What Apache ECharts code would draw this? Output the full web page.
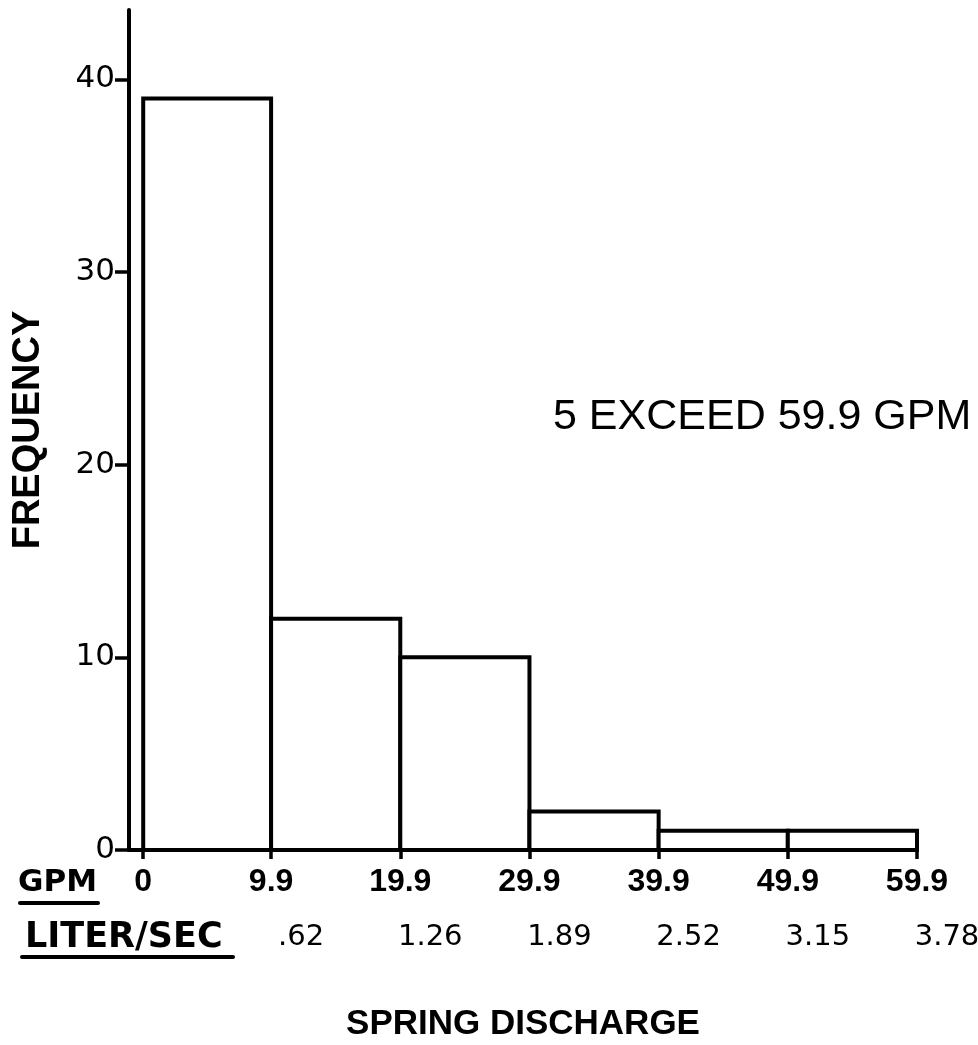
<!DOCTYPE html>
<html>
<head>
<meta charset="utf-8">
<script src="https://cdn.jsdelivr.net/npm/echarts@6/dist/echarts.min.js"></script>
<style>
	html, body { margin: 0; padding: 0; background: #fff; }
	#main { width: 978px; height: 1045px; }
</style>
</head>
<body>
<div id="main"></div>
<script>
// bin edges in GPM, and the count in each bin
var binEdges = [0, 9.9, 19.9, 29.9, 39.9, 49.9, 59.9];
var frequency = [39, 12, 10, 2, 1, 1];
var gpmLabels = ['0', '9.9', '19.9', '29.9', '39.9', '49.9', '59.9'];
var literSecLabels = ['.62', '1.26', '1.89', '2.52', '3.15', '3.78'];
var yTicks = [0, 10, 20, 30, 40];

function edgeIndex(v) {
	var best = 0;
	for (var i = 1; i < binEdges.length; i++) {
		if (Math.abs(binEdges[i] - v) < Math.abs(binEdges[best] - v)) best = i;
	}
	return best;
}

var bins = [];
for (var i = 0; i < frequency.length; i++) {
	bins.push([binEdges[i], binEdges[i + 1], frequency[i]]);
}

var chart = echarts.init(document.getElementById('main'));
chart.setOption({
	backgroundColor: '#fff',
	animation: false,
	grid: {
		left: 129,
		right: 61,
		top: 10,
		bottom: 195,
		containLabel: false,
		outerBoundsMode: 'none'
	},
	xAxis: [{
		type: 'value',
		min: -1.1,
		max: 59.9,
		axisLine: { onZero: false, lineStyle: { color: '#000', width: 4 } },
		axisTick: {
			customValues: binEdges,
			length: 9,
			lineStyle: { color: '#000', width: 3.5 }
		},
		axisLabel: {
			customValues: binEdges,
			margin: 16,
			color: '#000',
			fontSize: 32,
			fontWeight: 'bold',
			fontFamily: 'Liberation Sans',
			formatter: function(v) {
				return gpmLabels[edgeIndex(v)];
			}
		},
		splitLine: { show: false }
	}, {
		type: 'value',
		min: -1.1,
		max: 59.9,
		position: 'bottom',
		offset: 53,
		axisLine: { show: false, onZero: false },
		axisTick: { show: false },
		axisLabel: {
			customValues: binEdges.slice(1),
			margin: 20,
			color: '#000',
			fontSize: 29,
			fontFamily: 'DejaVu Sans',
			padding: [0, 0, 0, 60],
			formatter: function(v) {
				return literSecLabels[edgeIndex(v) - 1];
			}
		},
		splitLine: { show: false },
		name: 'SPRING DISCHARGE',
		nameLocation: 'middle',
		nameGap: 104,
		nameTextStyle: {
			color: '#000',
			fontSize: 35,
			fontWeight: 'bold',
			fontFamily: 'Liberation Sans'
		}
	}],
	yAxis: {
		type: 'value',
		min: 0,
		max: 43.6,
		axisLine: { show: true, onZero: false, lineStyle: { color: '#000', width: 4 } },
		axisTick: {
			show: true,
			customValues: yTicks,
			length: 14,
			lineStyle: { color: '#000', width: 3.5 }
		},
		axisLabel: {
			customValues: yTicks,
			margin: 14,
			color: '#000',
			fontSize: 31,
			fontFamily: 'DejaVu Sans'
		},
		splitLine: { show: false },
		name: 'FREQUENCY',
		nameLocation: 'middle',
		nameRotate: 90,
		nameGap: 81,
		nameTextStyle: {
			color: '#000',
			fontSize: 38,
			fontWeight: 'bold',
			fontFamily: 'Liberation Sans'
		}
	},
	graphic: [{
		type: 'text',
		left: 553,
		top: 396,
		style: {
			text: '5 EXCEED 59.9 GPM',
			fill: '#000',
			font: '43px "Liberation Sans"'
		}
	}, {
		type: 'text',
		left: 18,
		top: 867,
		style: {
			text: 'GPM',
			fill: '#000',
			font: 'bold 31px "DejaVu Sans"'
		}
	}, {
		type: 'line',
		shape: { x1: 20, y1: 903, x2: 98, y2: 903 },
		style: { stroke: '#000', lineWidth: 4, lineCap: 'round' }
	}, {
		type: 'text',
		left: 25,
		top: 920,
		style: {
			text: 'LITER/SEC',
			fill: '#000',
			font: 'bold 35px "DejaVu Sans"'
		}
	}, {
		type: 'line',
		shape: { x1: 22, y1: 957, x2: 233, y2: 957 },
		style: { stroke: '#000', lineWidth: 4, lineCap: 'round' }
	}],
	series: [{
		type: 'custom',
		xAxisIndex: 0,
		encode: { x: [0, 1], y: 2 },
		renderItem: function(params, api) {
			var p0 = api.coord([api.value(0), api.value(2)]);
			var p1 = api.coord([api.value(1), 0]);
			return {
				type: 'rect',
				shape: {
					x: p0[0],
					y: p0[1],
					width: p1[0] - p0[0],
					height: p1[1] - p0[1]
				},
				style: {
					fill: '#fff',
					stroke: '#000',
					lineWidth: 4
				}
			};
		},
		data: bins
	}]
});
</script>
</body>
</html>
